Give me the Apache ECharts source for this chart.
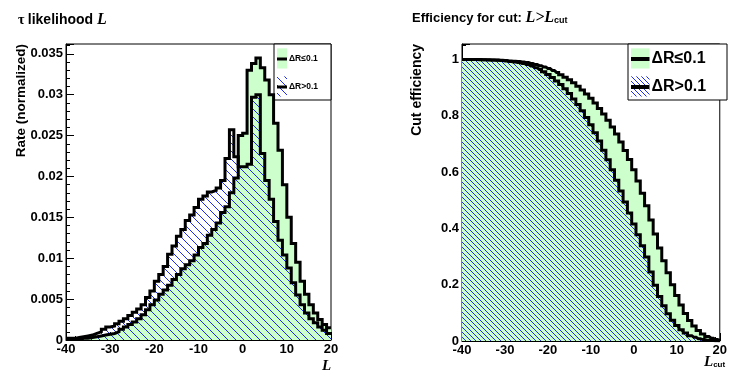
<!DOCTYPE html>
<html>
<head>
<meta charset="utf-8">
<script src="https://cdn.jsdelivr.net/npm/echarts@6.0.0/dist/echarts.min.js"></script>
<style>
  html, body { margin: 0; padding: 0; background: #fff; }
  #chart { width: 730px; height: 370px; }
</style>
</head>
<body>
<div id="chart"></div>
<script>
// histogram bin edges: L = -40 .. 20, width 1
const binLow = [-40,-39,-38,-37,-36,-35,-34,-33,-32,-31,-30,-29,-28,-27,-26,-25,-24,-23,-22,-21,
  -20,-19,-18,-17,-16,-15,-14,-13,-12,-11,-10,-9,-8,-7,-6,-5,-4,-3,-2,-1,
  0,1,2,3,4,5,6,7,8,9,10,11,12,13,14,15,16,17,18,19];
// ΔR<=0.1 rate
const rateNear = [0.0001,0.0001,0.0001,0.0002,0.0002,0.0003,0.0004,0.0005,0.0006,0.0007,
  0.0008,0.0010,0.0013,0.0016,0.0019,0.0022,0.0026,0.0031,0.0037,0.0043,
  0.0049,0.0056,0.0061,0.0067,0.0074,0.0080,0.0087,0.0092,0.0097,0.0104,
  0.0113,0.0118,0.0128,0.0135,0.0143,0.0156,0.0163,0.0180,0.0198,0.0250,
  0.0253,0.0330,0.0338,0.0345,0.0333,0.0318,0.0300,0.0265,0.0232,0.0190,
  0.0150,0.0118,0.0095,0.0072,0.0056,0.0043,0.0033,0.0025,0.0019,0.0015];
// ΔR>0.1 rate
const rateFar = [0.0002,0.0002,0.0003,0.0004,0.0005,0.0006,0.0008,0.0010,0.0013,0.0016,
  0.0017,0.0020,0.0023,0.0026,0.0030,0.0034,0.0038,0.0043,0.0052,0.0060,
  0.0072,0.0080,0.0090,0.0105,0.0115,0.0127,0.0135,0.0146,0.0153,0.0162,
  0.0172,0.0176,0.0181,0.0183,0.0186,0.0195,0.0222,0.0257,0.0224,0.0212,
  0.0212,0.0215,0.0297,0.0300,0.0228,0.0195,0.0172,0.0145,0.0122,0.0104,
  0.0088,0.0070,0.0055,0.0043,0.0033,0.0026,0.0021,0.0016,0.0012,0.0008];

// efficiency for cut L > Lcut
const cutValues = [-40,-39,-38,-37,-36,-35,-34,-33,-32,-31,-30,-29,-28,-27,-26,-25,-24,-23,-22,-21,
  -20,-19,-18,-17,-16,-15,-14,-13,-12,-11,-10,-9,-8,-7,-6,-5,-4,-3,-2,-1,
  0,1,2,3,4,5,6,7,8,9,10,11,12,13,14,15,16,17,18,19,20];
const effNear = [1.000,1.000,1.000,1.000,1.000,0.999,0.999,0.998,0.998,0.997,
  0.996,0.995,0.994,0.993,0.991,0.989,0.986,0.982,0.978,0.973,
  0.968,0.961,0.954,0.946,0.937,0.928,0.917,0.905,0.892,0.877,
  0.862,0.845,0.826,0.806,0.784,0.760,0.735,0.707,0.677,0.645,
  0.608,0.568,0.525,0.480,0.430,0.380,0.330,0.285,0.242,0.200,
  0.162,0.128,0.098,0.073,0.053,0.037,0.025,0.016,0.010,0.005,0.002];
const effFar = [1.000,1.000,1.000,1.000,0.999,0.999,0.998,0.998,0.997,0.996,
  0.995,0.993,0.991,0.989,0.986,0.982,0.977,0.971,0.964,0.956,
  0.947,0.936,0.924,0.911,0.896,0.879,0.860,0.840,0.818,0.794,
  0.768,0.740,0.710,0.678,0.644,0.608,0.571,0.533,0.494,0.455,
  0.416,0.377,0.338,0.298,0.245,0.198,0.158,0.125,0.097,0.074,
  0.055,0.040,0.028,0.019,0.013,0.008,0.005,0.003,0.002,0.001,0.000];

const legendNames = ['ΔR≤0.1', 'ΔR>0.1'];

const SANS = '"Liberation Sans", Arial, sans-serif';
const SERIF = '"Liberation Serif", "Times New Roman", serif';
const GREEN = '#ccffcc';

// blue "\\\" hatching as a repeating canvas tile
function makeHatch(step) {
  const c = document.createElement('canvas');
  c.width = step;
  c.height = step;
  const ctx = c.getContext('2d');
  ctx.strokeStyle = '#1f2cf0';
  ctx.lineWidth = 1;
  ctx.beginPath();
  ctx.moveTo(-1, -1); ctx.lineTo(step + 1, step + 1);
  ctx.moveTo(-1, step - 1); ctx.lineTo(1, step + 1);
  ctx.moveTo(step - 1, -1); ctx.lineTo(step + 1, 1);
  ctx.stroke();
  return c;
}
const hatchLeft = { image: makeHatch(8), repeat: 'repeat' };
const hatchRight = { image: makeHatch(5), repeat: 'repeat' };

// histogram as step line through bin edges
function histData(values) {
  const out = binLow.map((x, i) => [x, values[i]]);
  out.push([20, values[values.length - 1]]);
  return out;
}
function effData(values) {
  return cutValues.map((x, i) => [x, values[i]]);
}

function xAxisOf(gridIndex, minorSplit) {
  return {
    type: 'value', gridIndex: gridIndex, min: -40, max: 20, interval: 10,
    axisLine: { show: true, onZero: false, lineStyle: { color: '#000', width: 1 } },
    axisTick: { inside: true, length: 8, lineStyle: { color: '#000' } },
    minorTick: { show: true, splitNumber: minorSplit, length: 4, lineStyle: { color: '#000' } },
    splitLine: { show: false },
    axisLabel: { color: '#000', fontWeight: 'bold', fontSize: 13, fontFamily: SANS, margin: 3 }
  };
}
function yAxisOf(gridIndex, max, interval, minorSplit) {
  return {
    type: 'value', gridIndex: gridIndex, min: 0, max: max, interval: interval,
    axisLine: { show: true, onZero: false, lineStyle: { color: '#000', width: 1 } },
    axisTick: { inside: true, length: 8, lineStyle: { color: '#000' } },
    minorTick: { show: true, splitNumber: minorSplit, length: 4, lineStyle: { color: '#000' } },
    splitLine: { show: false },
    axisLabel: { color: '#000', fontWeight: 'bold', fontSize: 13, fontFamily: SANS, margin: 3, showMaxLabel: false }
  };
}

function stepSeries(name, data, xi, fill, step) {
  return {
    name: name, type: 'line', xAxisIndex: xi, yAxisIndex: xi,
    data: data, step: step, symbol: 'none', clip: true,
    lineStyle: { color: '#000', width: 3, join: 'miter' },
    areaStyle: { color: fill, opacity: 1, origin: 'start' }
  };
}

function legendBox(x, y, w, h, swW, fontSize, lineW, hatch) {
  const rowH = h / 2;
  const els = [
    { type: 'rect', shape: { x: x, y: y, width: w, height: h }, style: { fill: '#fff', stroke: '#000', lineWidth: 1 } }
  ];
  const fills = [GREEN, hatch];
  for (let i = 0; i < 2; i++) {
    const cy = y + rowH * i + rowH / 2 + 1;
    els.push({ type: 'rect', shape: { x: x + 3, y: cy - rowH * 0.38, width: swW, height: rowH * 0.72 }, style: { fill: fills[i] } });
    els.push({ type: 'line', shape: { x1: x + 3, y1: cy, x2: x + 3 + swW, y2: cy }, style: { stroke: '#000', lineWidth: lineW } });
    els.push({ type: 'text', x: x + 5 + swW, y: cy, style: { text: legendNames[i], fill: '#000', font: 'bold ' + fontSize + 'px ' + SANS, verticalAlign: 'middle', align: 'left' } });
  }
  return els;
}

const chart = echarts.init(document.getElementById('chart'), null, { renderer: 'canvas' });

const option = {
  backgroundColor: '#fff',
  animation: false,
  grid: [
    { left: 66, top: 44, width: 265, height: 296, show: true, borderColor: '#000', borderWidth: 1, backgroundColor: '#fff' },
    { left: 462, top: 44, width: 265, height: 297, show: true, borderColor: '#000', borderWidth: 1, backgroundColor: '#fff' }
  ],
  xAxis: [xAxisOf(0, 5), xAxisOf(1, 10)],
  yAxis: [yAxisOf(0, 0.0362, 0.005, 5), yAxisOf(1, 1.055, 0.2, 4)],
  series: [
    stepSeries(legendNames[0], histData(rateNear), 0, GREEN, 'end'),
    stepSeries(legendNames[1], histData(rateFar), 0, hatchLeft, 'end'),
    stepSeries(legendNames[0], effData(effNear), 1, GREEN, 'middle'),
    stepSeries(legendNames[1], effData(effFar), 1, hatchRight, 'middle')
  ],
  graphic: [
    // titles
    { type: 'text', x: 18, y: 20, style: {
      text: '{g|τ} {b|likelihood }{i|L}', verticalAlign: 'middle',
      rich: {
        g: { font: 'bold 14px ' + SERIF, fill: '#000' },
        b: { font: 'bold 14px ' + SANS, fill: '#000' },
        i: { font: 'italic bold 16px ' + SERIF, fill: '#000' }
      } } },
    { type: 'text', x: 412, y: 18, style: {
      text: '{b|Efficiency for cut: }{i|L>L}{s|cut}', verticalAlign: 'middle',
      rich: {
        b: { font: 'bold 13px ' + SANS, fill: '#000' },
        i: { font: 'italic bold 16px ' + SERIF, fill: '#000' },
        s: { font: 'bold 9px ' + SANS, fill: '#000', padding: [6, 0, 0, 0] }
      } } },
    // axis titles
    { type: 'text', x: 21, y: 44, rotation: Math.PI / 2, style: {
      text: 'Rate (normalized)', font: 'bold 13.5px ' + SANS, fill: '#000', align: 'right', verticalAlign: 'middle' } },
    { type: 'text', x: 417, y: 44, rotation: Math.PI / 2, style: {
      text: 'Cut efficiency', font: 'bold 14px ' + SANS, fill: '#000', align: 'right', verticalAlign: 'middle' } },
    { type: 'text', x: 322, y: 366, style: {
      text: 'L', font: 'italic bold 15px ' + SERIF, fill: '#000', align: 'left', verticalAlign: 'middle' } },
    { type: 'text', x: 704, y: 362, style: {
      text: '{i|L}{s|cut}', verticalAlign: 'middle',
      rich: {
        i: { font: 'italic bold 15px ' + SERIF, fill: '#000' },
        s: { font: 'bold 8px ' + SANS, fill: '#000', padding: [5, 0, 0, 0] }
      } } }
  ].concat(legendBox(274, 44, 57, 56, 10, 8.5, 3, hatchLeft))
   .concat(legendBox(628, 44, 99, 56, 18.5, 16, 4, hatchRight))
};

chart.setOption(option);
</script>
</body>
</html>
